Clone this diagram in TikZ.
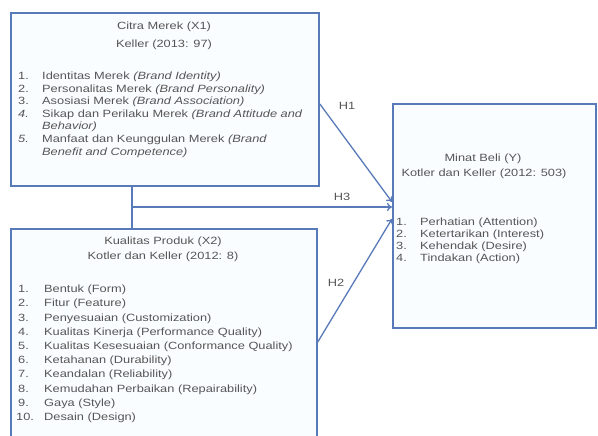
\documentclass[tikz,border=0pt]{standalone}
\usepackage{fontspec}
\setmainfont{Liberation Sans}[FakeStretch=1.22]
\usepackage{tikz}
\usetikzlibrary{arrows.meta,calc}

\definecolor{boxblue}{RGB}{88,122,184}
\definecolor{boxfill}{RGB}{250,253,255}
\definecolor{txtgray}{RGB}{85,85,85}

\tikzset{
	varbox/.style={draw=boxblue, line width=1.8pt, fill=boxfill, anchor=north west, inner sep=0pt},
	head/.style={text=txtgray, font=\fontsize{10.5}{12}\selectfont, anchor=center, inner sep=0pt},
	item/.style={text=txtgray, font=\fontsize{10.5}{12}\selectfont, anchor=west, inner sep=0pt},
	link/.style={draw=boxblue, line width=1.3pt, -{To[length=5pt,width=8pt]}},
	hlabel/.style={text=txtgray, font=\fontsize{10.5}{12}\selectfont, inner sep=0pt}
}

\begin{document}
\begin{tikzpicture}[x=1pt, y=-1pt]

	\useasboundingbox (0,0) rectangle (598,436);
	\clip (0,0) rectangle (598,436);

	% boxes
	\node[varbox, minimum width=308pt, minimum height=173pt] (Citra) at (10,12) {};
	\node[varbox, minimum width=306pt, minimum height=240pt] (Kualitas) at (10,228) {};
	\node[varbox, minimum width=203pt, minimum height=224pt] (Minat) at (392,103) {};

	% connectors
	\coordinate (Junc) at (132,207);
	\draw[draw=boxblue, line width=1.3pt] (Junc |- Citra.south) -- (Junc |- Kualitas.north);
	\draw[link] (Junc) -- (Junc -| Minat.west);
	\draw[link] ($(Citra.east)+(0,4.5)$) -- ($(Minat.west)+(0,-14)$);
	\draw[link] ($(Kualitas.east)+(0,-7)$) -- ($(Minat.west)+(0,3)$);

	\node[hlabel] (LabelH1) at (347,106) {H1};
	\node[hlabel] (LabelH3) at (342,197) {H3};
	\node[hlabel] (LabelH2) at (336,283) {H2};

	% Citra Merek
	\node[head] (CitraName) at (164,27) {Citra Merek (X1)};
	\node[head] (CitraRef) at (164,45) {Keller (2013: 97)};
	\node[item] (CitraA) at (18,77) {\makebox[24pt][l]{1.}Identitas Merek \textit{(Brand Identity)}};
	\node[item] (CitraB) at (18,89.5) {\makebox[24pt][l]{2.}Personalitas Merek \textit{(Brand Personality)}};
	\node[item] (CitraC) at (18,102) {\makebox[24pt][l]{3.}Asosiasi Merek \textit{(Brand Association)}};
	\node[item] (CitraD) at (18,114.5) {\makebox[24pt][l]{\textit{4.}}Sikap dan Perilaku Merek \textit{(Brand Attitude and}};
	\node[item] (CitraDb) at (42,127) {\textit{Behavior)}};
	\node[item] (CitraE) at (18,140) {\makebox[24pt][l]{\textit{5.}}Manfaat dan Keunggulan Merek \textit{(Brand}};
	\node[item] (CitraEb) at (42,152.5) {\textit{Benefit and Competence)}};

	% Kualitas Produk
	\node[head] (KualName) at (163,242) {Kualitas Produk (X2)};
	\node[head] (KualRef) at (163,257) {Kotler dan Keller (2012: 8)};
	\node[item] (KualA) at (18,290) {\makebox[26pt][l]{1.}Bentuk (Form)};
	\node[item] (KualB) at (18,304.2) {\makebox[26pt][l]{2.}Fitur (Feature)};
	\node[item] (KualC) at (18,318.4) {\makebox[26pt][l]{3.}Penyesuaian (Customization)};
	\node[item] (KualD) at (18,332.6) {\makebox[26pt][l]{4.}Kualitas Kinerja (Performance Quality)};
	\node[item] (KualE) at (18,346.8) {\makebox[26pt][l]{5.}Kualitas Kesesuaian (Conformance Quality)};
	\node[item] (KualF) at (18,361) {\makebox[26pt][l]{6.}Ketahanan (Durability)};
	\node[item] (KualG) at (18,375.2) {\makebox[26pt][l]{7.}Keandalan (Reliability)};
	\node[item] (KualH) at (18,389.4) {\makebox[26pt][l]{8.}Kemudahan Perbaikan (Repairability)};
	\node[item] (KualI) at (18,403.6) {\makebox[26pt][l]{9.}Gaya (Style)};
	\node[item] (KualJ) at (16,417.8) {\makebox[28pt][l]{10.}Desain (Design)};

	% Minat Beli
	\node[head] (MinatName) at (483,159) {Minat Beli (Y)};
	\node[head] (MinatRef) at (484,174) {Kotler dan Keller (2012: 503)};
	\node[item] (MinatA) at (396,223) {\makebox[24pt][l]{1.}Perhatian (Attention)};
	\node[item] (MinatB) at (396,235) {\makebox[24pt][l]{2.}Ketertarikan (Interest)};
	\node[item] (MinatC) at (396,247) {\makebox[24pt][l]{3.}Kehendak (Desire)};
	\node[item] (MinatD) at (396,259) {\makebox[24pt][l]{4.}Tindakan (Action)};

\end{tikzpicture}
\end{document}
